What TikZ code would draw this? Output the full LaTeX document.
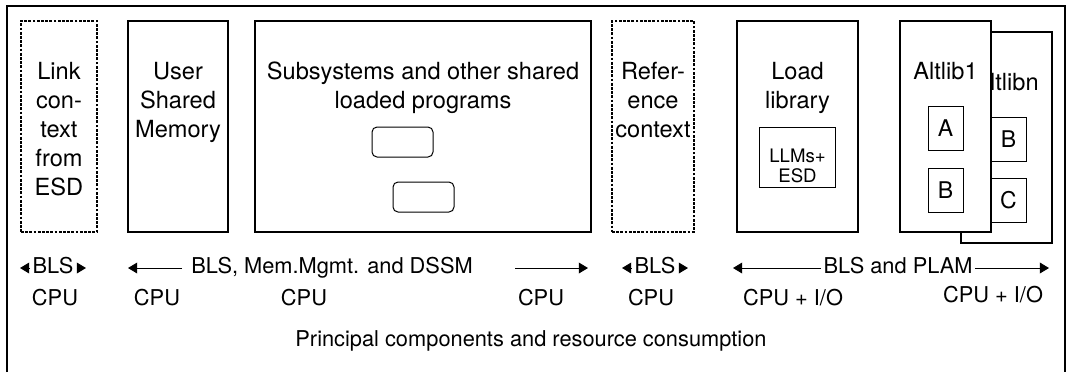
\documentclass[tikz,border=0pt]{standalone}
\usepackage{fontspec}
\setmainfont{TeX Gyre Heros}
\usepackage{tikz}
\usetikzlibrary{arrows.meta,positioning}
\tikzset{
	box/.style = {rectangle, draw=black, line width=0.6pt, fill=white, minimum height=105.5pt, inner sep=0pt, outer sep=0pt, anchor=north west},
	box_dash/.style = {box, line width=0.8pt, dash pattern=on 1.4pt off 0.7pt},
	box_in/.style = {rectangle, draw=black, line width=0.5pt, fill=white, inner sep=0pt, font=\fontsize{11.5}{13}\selectfont},
	prog/.style = {box_in, rounded corners=2.5pt, minimum width=30.5pt, minimum height=15pt},
	title/.style = {align=center, inner sep=0pt, outer sep=0pt, font=\fontsize{11.8}{14.5}\selectfont},
	title_small/.style = {title, font=\fontsize{9.3}{10}\selectfont},
	lbl/.style = {inner sep=1pt, text height=8pt, text depth=2.2pt, font=\fontsize{10.9}{12}\selectfont},
	arr/.style = {-{Triangle[length=4.6pt,width=5.4pt]}, line width=0.5pt}
}
\begin{document}
\begin{tikzpicture}[x=0.5pt, y=-0.5pt]
\useasboundingbox (0,0) rectangle (1069,372);
% outer frame, open at the bottom
\coordinate (f_bl) at (7,372);
\coordinate (f_tr) at (1065,6);
\coordinate (f_br) at (1065,372);
\draw[line width=0.8pt] (f_bl) |- (f_tr) -- (f_br);

% the second alternate library lies behind the first one
\node[box, minimum width=45.5pt] (altlibn) at (961,32) {};
\node[title, below=20.5pt of altlibn.north] (altlibn_t) {Altlibn};
\node[box_in, minimum width=17.5pt, minimum height=22pt, below=42.5pt of altlibn.north, xshift=1pt] (bn) {B};
\node[box_in, minimum width=17.5pt, minimum height=22pt, below=8pt of bn] (cn) {C};

\node[box_dash, minimum width=38pt] (link) at (21,21) {};
\node[box, minimum width=50pt, right=15.5pt of link] (usm) {};
\node[box, minimum width=168pt, right=13.5pt of usm] (subsys) {};
\node[box_dash, minimum width=41pt, right=10.5pt of subsys] (refctx) {};
\node[box, minimum width=60.5pt, right=21.5pt of refctx] (loadlib) {};
\node[box, minimum width=45.5pt, right=21pt of loadlib] (altlib1) {};

\node[title, below=20.5pt of link.north] (link_t) {Link\\con-\\text\\from\\ESD};
\node[title, below=20.5pt of usm.north] (usm_t) {User\\Shared\\Memory};
\node[title, below=20.5pt of subsys.north] (subsys_t) {Subsystems and other shared\\loaded programs};
\node[title, below=20.5pt of refctx.north] (refctx_t) {Refer-\\ence\\context};
\node[title, below=20.5pt of loadlib.north] (loadlib_t) {Load\\library};
\node[title, below=20.5pt of altlib1.north] (altlib1_t) {Altlib1};

\node[prog] (prog1) at (402.5,142) {};
\node[prog] (prog2) at (423.5,197) {};

\node[box_in, minimum width=38pt, minimum height=30pt, below=53pt of loadlib.north] (llm) {};
\node[title_small, below=11pt of llm.north] (llm_t) {LLMs+\\ESD};

\node[box_in, minimum width=17.5pt, minimum height=22pt, below=42.5pt of altlib1.north] (a1) {A};
\node[box_in, minimum width=17.5pt, minimum height=22pt, below=8.5pt of a1] (b1) {B};

% components
\node[lbl, inner xsep=1.5pt] (bls1) at (53,268) {BLS};
\draw[arr] (bls1.west) -- ([xshift=-4.6pt]bls1.west);
\draw[arr] (bls1.east) -- ([xshift=4.6pt]bls1.east);

\node[lbl] (mem) at (332,268) {BLS, Mem.Mgmt. and DSSM};
\coordinate (mem_la) at (182,268);
\coordinate (mem_lb) at (128,268);
\coordinate (mem_ra) at (515,268);
\coordinate (mem_rb) at (588,268);
\draw[arr] (mem_la) -- (mem_lb);
\draw[arr] (mem_ra) -- (mem_rb);

\node[lbl, inner xsep=1.5pt] (bls2) at (655,268) {BLS};
\draw[arr] (bls2.west) -- ([xshift=-4.6pt]bls2.west);
\draw[arr] (bls2.east) -- ([xshift=4.6pt]bls2.east);

\node[lbl] (plam) at (898,268) {BLS and PLAM};
\coordinate (plam_l) at (733,268);
\coordinate (plam_r) at (1049,268);
\draw[arr] (plam.west) -- (plam_l);
\draw[arr] (plam.east) -- (plam_r);

% resource consumption
\node[lbl] (cpu1) at (55,300) {CPU};
\node[lbl] (cpu2) at (157,300) {CPU};
\node[lbl] (cpu3) at (304,300) {CPU};
\node[lbl] (cpu4) at (541,300) {CPU};
\node[lbl] (cpu5) at (651,300) {CPU};
\node[lbl] (cpuio1) at (793,300) {CPU + I/O};
\node[lbl] (cpuio2) at (993,297) {CPU + I/O};

\node[lbl] (princ) at (531,341) {Principal components and resource consumption};
\end{tikzpicture}
\end{document}
